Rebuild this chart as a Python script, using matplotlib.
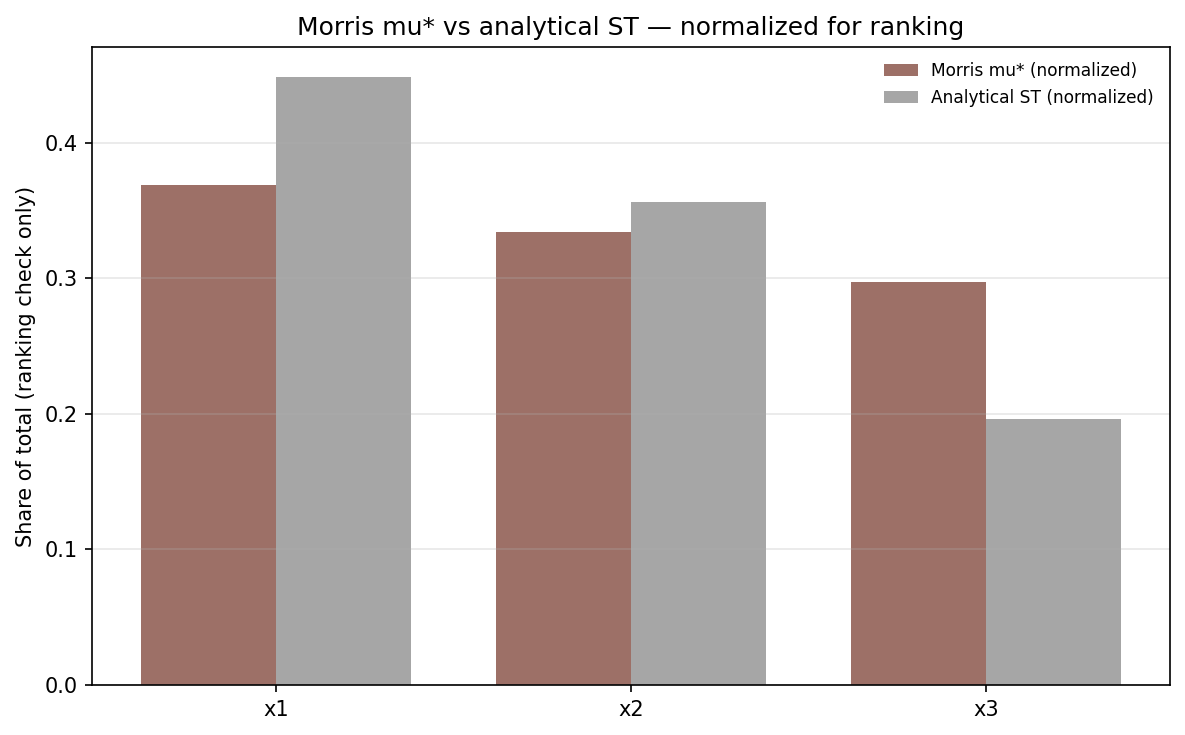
import matplotlib
matplotlib.use("Agg")
import matplotlib.pyplot as plt
import numpy as np

params = ["x1", "x2", "x3"]
morris_norm = [0.369, 0.334, 0.297]
analytical_norm = [0.448, 0.356, 0.196]

fig, ax = plt.subplots(figsize=(7.9, 4.9), dpi=150)
x = np.arange(len(params))
w = 0.38
ax.bar(x - w/2, morris_norm, w, color="#9d7067", label="Morris mu* (normalized)")
ax.bar(x + w/2, analytical_norm, w, color="#a6a6a6", label="Analytical ST (normalized)")
ax.set_xticks(x)
ax.set_xticklabels(params)
ax.set_ylabel("Share of total (ranking check only)")
ax.set_title("Morris mu* vs analytical ST — normalized for ranking")
ax.grid(axis="y", alpha=0.3)
ax.legend(frameon=False, fontsize=8.2)
fig.subplots_adjust(left=0.078, right=0.987, top=0.936, bottom=0.068)
fig.savefig("out.png", dpi=150)
